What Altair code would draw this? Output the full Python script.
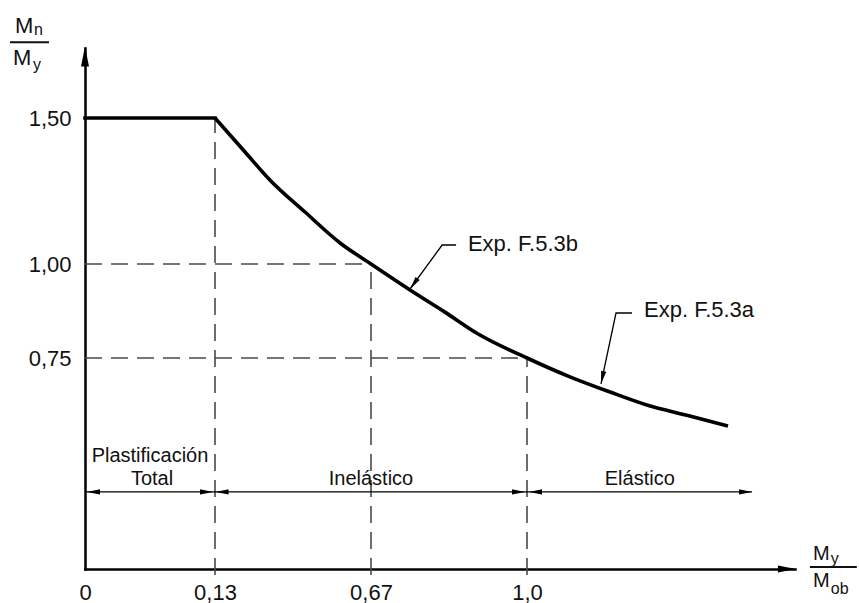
import altair as alt
import pandas as pd

# ---------------- data ----------------
plateau_x = [0, 0.13]
plateau_y = [1.5, 1.5]
curve_x = [0.13, 0.234, 0.320, 0.4415, 0.563, 0.67, 0.7525, 0.8265, 0.894, 1.0, 1.091, 1.176, 1.254, 1.345, 1.426]
curve_y = [1.5, 1.3836, 1.288, 1.178, 1.072, 1.0, 0.931, 0.872, 0.816, 0.75, 0.683, 0.629, 0.583, 0.544, 0.508]

x_tick_values = [0, 0.13, 0.67, 1.0]
x_tick_labels = ["0", "0,13", "0,67", "1,0"]
y_tick_values = [0.75, 1.0, 1.5]
y_tick_labels = ["0,75", "1,00", "1,50"]

# schematic (piecewise) axes
x_breaks = [0, 0.13, 0.67, 1.0, 1.568]
x_break_px = [0, 130, 286, 442, 710]
y_breaks = [0, 0.75, 1.0, 1.5, 1.74]
y_break_px = [521, 310, 216, 70, 0]

# dashed reference lines
dash_x = [0.13, 0.67, 1.0, 0, 0]
dash_x2 = [0.13, 0.67, 1.0, 0.67, 1.0]
dash_y = [-0.021, -0.021, -0.021, 1.0, 0.75]
dash_y2 = [1.5, 1.0, 0.75, 1.0, 0.75]

# region dimension line
dim_y = 0.274
dim_x_end = 1.477
region_labels = ["Plastificación", "Total", "Inelástico", "Elástico"]
region_x = [0.065, 0.067, 0.67, 1.239]
region_y = [0.382, 0.2986, 0.2986, 0.2986]

# expression labels and leaders
exp_labels = ["Exp. F.5.3b", "Exp. F.5.3a"]
exp_x = [0.875, 1.248]
exp_y = [1.0445, 0.859]
leader_id = ["b", "b", "b", "a", "a", "a"]
leader_x = [0.85, 0.8205, 0.7525, 1.2225, 1.1886, 1.1568]
leader_y = [1.065, 1.065, 0.9335, 0.8697, 0.8697, 0.6577]

# arrow heads
arrow_x = [0, 1.57, 0.002, 0.128, 0.132, 0.9958, 1.0042, 1.477, 0.7525, 1.1568]
arrow_y = [1.745, 0, dim_y, dim_y, dim_y, dim_y, dim_y, dim_y, 0.9335, 0.6577]
arrow_angle = [0, 90, 270, 90, 270, 90, 270, 90, 216, 192]
arrow_size = [400, 324, 169, 169, 169, 169, 169, 169, 169, 169]

# axis-title fractions
frac_text = ["M", "n", "M", "y", "M", "y", "M", "ob"]
frac_x = [-0.070, -0.051, -0.072, -0.052, 1.606, 1.644, 1.606, 1.644]
frac_y = [1.791, 1.784, 1.6815, 1.664, 0.032, 0.0178, -0.064, -0.0889]
frac_size = [22, 16, 22, 16, 20, 16, 20, 16]
bar_x = [-0.075, 1.5996]
bar_x2 = [-0.036, 1.699]
bar_y = [1.760, 0.0071]

FONT = "Liberation Sans"
TXT = "#111111"


def label_expr(values, labels):
    expr = f"'{labels[-1]}'"
    for v, l in zip(reversed(values[:-1]), reversed(labels[:-1])):
        expr = f"datum.value == {v} ? '{l}' : ({expr})"
    return expr


xs = alt.Scale(domain=x_breaks, range=x_break_px, nice=False, zero=False)
ys = alt.Scale(domain=y_breaks, range=y_break_px, nice=False, zero=False)

x_axis = alt.Axis(values=x_tick_values, labelExpr=label_expr(x_tick_values, x_tick_labels),
                  ticks=False, grid=False, domainColor="black", domainWidth=2.5, domainCap="square",
                  labelFontSize=22, labelPadding=13, labelFlush=False, labelOverlap=False,
                  labelColor=TXT, labelFont=FONT)
y_axis = alt.Axis(values=y_tick_values, labelExpr=label_expr(y_tick_values, y_tick_labels),
                  ticks=False, grid=False, domainColor="black", domainWidth=2.5, domainCap="square",
                  labelFontSize=22, labelPadding=14, labelFlush=False, labelOverlap=False,
                  labelColor=TXT, labelFont=FONT)


def X(f):
    return alt.X(f"{f}:Q", scale=xs, axis=x_axis, title=None)


def Y(f):
    return alt.Y(f"{f}:Q", scale=ys, axis=y_axis, title=None)


dash_df = pd.DataFrame({"x": dash_x, "x2": dash_x2, "y": dash_y, "y2": dash_y2})
dashes = alt.Chart(dash_df).mark_rule(strokeDash=[17, 9], color="#4a4a4a", strokeWidth=1.6).encode(
    x=X("x"), x2="x2:Q", y=Y("y"), y2="y2:Q")

plateau_df = pd.DataFrame({"x": plateau_x, "y": plateau_y, "o": list(range(len(plateau_x)))})
plateau = alt.Chart(plateau_df).mark_line(color="black", strokeWidth=3.6, strokeCap="square").encode(
    x=X("x"), y=Y("y"), order="o:Q")

curve_df = pd.DataFrame({"x": curve_x, "y": curve_y, "o": list(range(len(curve_x)))})
curve = alt.Chart(curve_df).mark_line(color="black", strokeWidth=3.6, strokeJoin="round",
                                      interpolate="monotone").encode(
    x=X("x"), y=Y("y"), order="o:Q")

dim_df = pd.DataFrame({"x": [0], "x2": [dim_x_end], "y": [dim_y]})
dim = alt.Chart(dim_df).mark_rule(color="black", strokeWidth=1.4).encode(x=X("x"), x2="x2:Q", y=Y("y"))

leader_df = pd.DataFrame({"x": leader_x, "y": leader_y, "id": leader_id, "o": list(range(len(leader_x)))})
leaders = alt.Chart(leader_df).mark_line(color="black", strokeWidth=1.3).encode(
    x=X("x"), y=Y("y"), detail="id:N", order="o:Q")

arrow_df = pd.DataFrame({"x": arrow_x, "y": arrow_y, "angle": arrow_angle, "size": arrow_size})
arrows = alt.Chart(arrow_df).mark_point(shape="M0,0L-0.4,2L0.4,2Z", filled=True, color="black",
                                        opacity=1, strokeWidth=0).encode(
    x=X("x"), y=Y("y"), angle=alt.Angle("angle:Q", scale=None), size=alt.Size("size:Q", scale=None))

region_df = pd.DataFrame({"x": region_x, "y": region_y, "t": region_labels})
regions = alt.Chart(region_df).mark_text(align="center", baseline="alphabetic", fontSize=20,
                                         font=FONT, color=TXT).encode(x=X("x"), y=Y("y"), text="t:N")

exp_df = pd.DataFrame({"x": exp_x, "y": exp_y, "t": exp_labels})
exps = alt.Chart(exp_df).mark_text(align="left", baseline="alphabetic", fontSize=22,
                                   font=FONT, color=TXT).encode(x=X("x"), y=Y("y"), text="t:N")

frac_df = pd.DataFrame({"x": frac_x, "y": frac_y, "t": frac_text, "s": frac_size})
fracs = alt.Chart(frac_df).mark_text(align="left", baseline="alphabetic", font=FONT, color=TXT).encode(
    x=X("x"), y=Y("y"), text="t:N", size=alt.Size("s:Q", scale=None))

bar_df = pd.DataFrame({"x": bar_x, "x2": bar_x2, "y": bar_y})
bars = alt.Chart(bar_df).mark_rule(color=TXT, strokeWidth=2).encode(x=X("x"), x2="x2:Q", y=Y("y"))

chart = alt.layer(dashes, dim, plateau, curve, leaders, arrows, regions, exps, fracs, bars).properties(
    width=710, height=521,
    autosize=alt.AutoSizeParams(type="none"),
    padding={"left": 85, "top": 48, "right": 64, "bottom": 34},
    background="white",
).configure_view(stroke=None)

chart.save("out.html", embed_options={"renderer": "svg", "actions": False})
